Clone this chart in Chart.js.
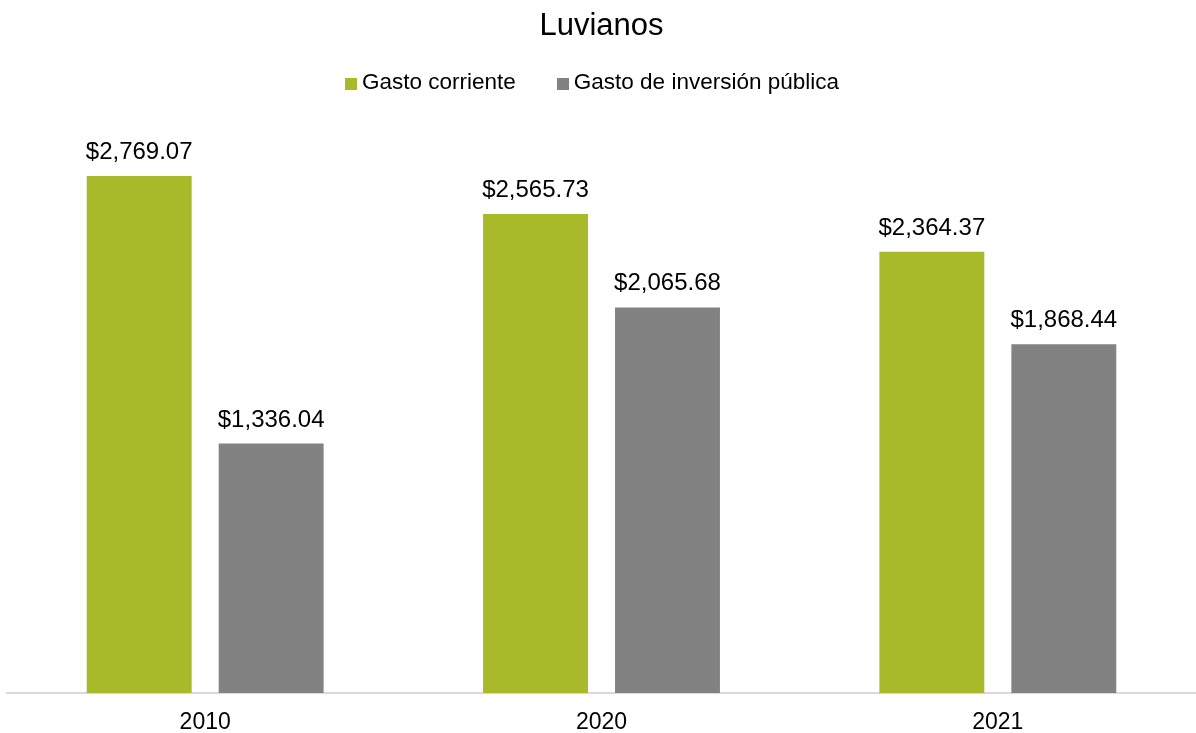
<!DOCTYPE html>
<html>
<head>
<meta charset="utf-8">
<script src="https://cdn.jsdelivr.net/npm/chart.js@4"></script>
<style>
html,body{margin:0;padding:0;background:#fff;}
#wrap{width:1196px;height:733px;position:relative;}
#legend{position:absolute;left:345px;top:71px;display:flex;align-items:flex-start;
  font-family:'Liberation Sans', Arial, sans-serif;font-size:22.5px;line-height:22.5px;color:#000;white-space:nowrap;}
#legend .item{display:flex;align-items:flex-start;}
#legend .item + .item{margin-left:41px;}
#legend .box{width:12px;height:12px;margin-top:7px;margin-right:5px;flex:none;}
</style>
</head>
<body>
<div id="wrap"><canvas id="c" width="1196" height="733"></canvas><div id="legend"></div></div>
<script>
const categories = ['2010', '2020', '2021'];
const gastoCorriente = [2769.07, 2565.73, 2364.37];
const gastoInversion = [1336.04, 2065.68, 1868.44];
const seriesNames = ['Gasto corriente', 'Gasto de inversión pública'];
const seriesColors = ['#A8B92A', '#828282'];
const chartTitle = 'Luvianos';

const FONT = "'Liberation Sans', Arial, sans-serif";

const fmt = v => '$' + v.toLocaleString('en-US', {minimumFractionDigits: 2, maximumFractionDigits: 2});

const labelPlugin = {
  id: 'barLabels',
  afterDatasetsDraw(chart) {
    const ctx = chart.ctx;
    ctx.save();
    ctx.font = '24px ' + FONT;
    ctx.fillStyle = '#000';
    ctx.textAlign = 'center';
    ctx.textBaseline = 'alphabetic';
    chart.data.datasets.forEach((ds, i) => {
      const meta = chart.getDatasetMeta(i);
      meta.data.forEach((bar, j) => {
        ctx.fillText(fmt(ds.data[j]), bar.x, bar.y - 17);
      });
    });
    ctx.restore();
  }
};

const chart = new Chart(document.getElementById('c'), {
  type: 'bar',
  data: {
    labels: categories,
    datasets: [
      {label: seriesNames[0], data: gastoCorriente, backgroundColor: seriesColors[0], barPercentage: 0.795, categoryPercentage: 0.666},
      {label: seriesNames[1], data: gastoInversion, backgroundColor: seriesColors[1], barPercentage: 0.795, categoryPercentage: 0.666}
    ]
  },
  options: {
    responsive: false,
    animation: false,
    layout: {padding: {left: 7, right: 0, top: 0, bottom: 0}},
    plugins: {
      title: {display: true, text: chartTitle, color: '#000', font: {family: FONT, size: 31, weight: 'normal'}, padding: {top: 8, bottom: 87.8}},
      legend: {display: false},
      tooltip: {enabled: false}
    },
    scales: {
      x: {
        grid: {display: false},
        border: {display: true, color: '#d9d9d9', width: 2},
        ticks: {color: '#000', font: {family: FONT, size: 23, lineHeight: 1}, padding: 10},
        afterFit: (s) => { s.height = 40; }
      },
      y: {display: false, min: 0, max: 3000}
    }
  },
  plugins: [labelPlugin]
});

// HTML legend built from the chart's datasets
const legendEl = document.getElementById('legend');
chart.data.datasets.forEach(ds => {
  const item = document.createElement('div');
  item.className = 'item';
  const box = document.createElement('span');
  box.className = 'box';
  box.style.background = ds.backgroundColor;
  const txt = document.createElement('span');
  txt.textContent = ds.label;
  item.appendChild(box);
  item.appendChild(txt);
  legendEl.appendChild(item);
});
</script>
</body>
</html>
